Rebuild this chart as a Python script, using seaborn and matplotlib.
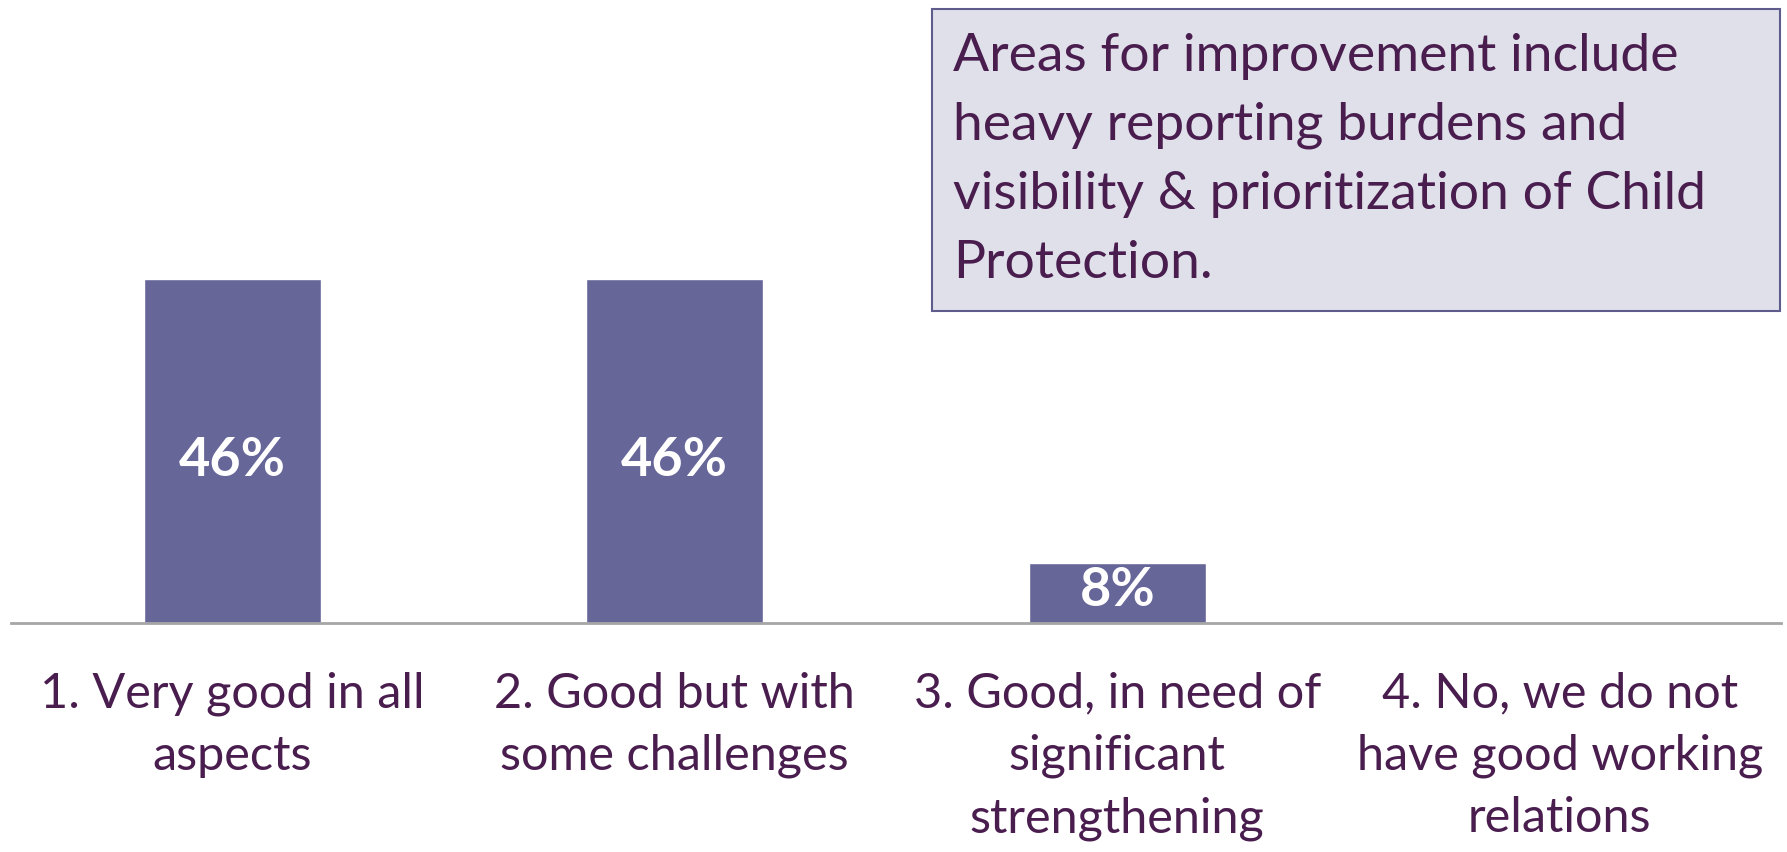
import matplotlib
matplotlib.use('Agg')
import matplotlib.pyplot as plt
import seaborn as sns
import pandas as pd
from matplotlib.patches import Rectangle

categories = ['1. Very good in all\naspects',
              '2. Good but with\nsome challenges',
              '3. Good, in need of\nsignificant\nstrengthening',
              '4. No, we do not\nhave good working\nrelations']
values = [46, 46, 8, 0]
value_labels = ['46%', '46%', '8%', '']
note = ('Areas for improvement include\nheavy reporting burdens and\n'
        'visibility & prioritization of Child\nProtection.')

bar_color = '#666699'
text_color = '#4A1D4F'

sns.set_style('white')
plt.rcParams['font.family'] = ['Lato', 'DejaVu Sans']

df = pd.DataFrame({'cat': categories, 'val': values})

fig = plt.figure(figsize=(17.87, 8.52), dpi=100)
# axes: left=11px, right=1781px, bottom at 623px from top
ax = fig.add_axes([11 / 1787, (852 - 623) / 852, 1770 / 1787, 623 / 852])
sns.barplot(data=df, x='cat', y='val', color=bar_color, width=0.40,
            saturation=1, ax=ax)

ax.set_xlim(-0.5, 3.5)
ax.set_ylim(0, 83.3)
for s in ['top', 'right', 'left']:
    ax.spines[s].set_visible(False)
ax.spines['bottom'].set_color('#A6A6A6')
ax.spines['bottom'].set_linewidth(2)
ax.set_yticks([])
ax.set_xlabel('')
ax.set_ylabel('')
ax.tick_params(axis='x', length=0, pad=35, labelsize=35, labelcolor=text_color)
for t in ax.get_xticklabels():
    t.set_linespacing(1.5)
    t.set_verticalalignment('top')

for i, (v, lab) in enumerate(zip(values, value_labels)):
    if lab:
        ax.text(i, v / 2 + (0.3 if v < 10 else -1.3), lab, ha='center', va='center',
                color='white', fontsize=39, fontweight='bold')

# note box
fig.patches.append(Rectangle((932 / 1787, (852 - 311) / 852), 848 / 1787, 302 / 852,
                             transform=fig.transFigure, facecolor='#E0E0EA',
                             edgecolor='#5F5B8C', linewidth=1.5))
fig.text(953 / 1787, (852 - 160) / 852, note, ha='left', va='center',
         fontsize=38.5, color=text_color, linespacing=1.58)

fig.savefig('out.png', dpi=100)
